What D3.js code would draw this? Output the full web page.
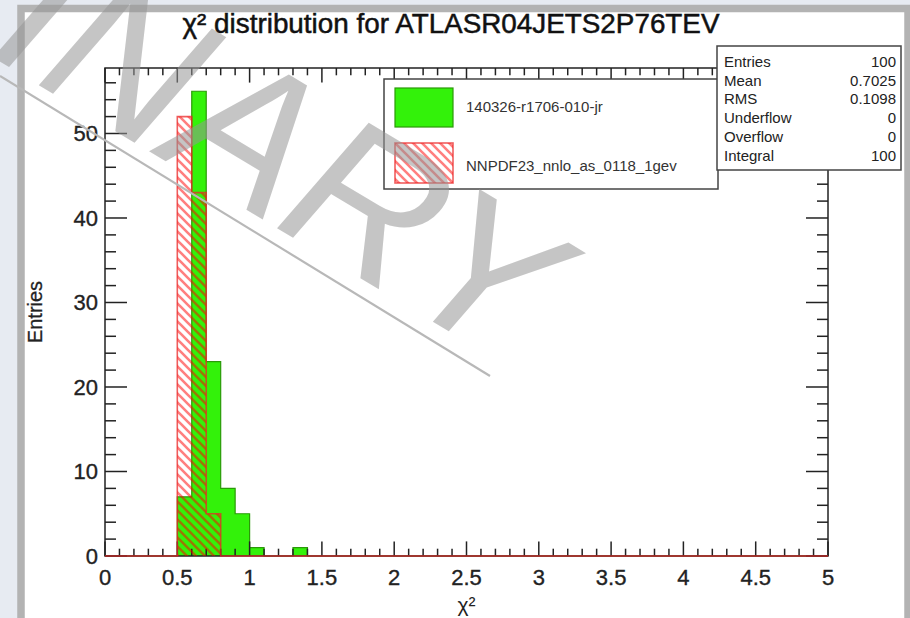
<!DOCTYPE html>
<html>
<head>
<meta charset="utf-8">
<script src="https://cdn.jsdelivr.net/npm/d3@7"></script>
<style>
  html, body { margin: 0; padding: 0; background: #e7ebf2; }
  svg { display: block; font-family: "Liberation Sans", Arial, Helvetica, sans-serif; }
</style>
</head>
<body>
<svg id="chart" width="910" height="618"></svg>
<script>
// Filled bins of the two chi^2 histograms (lower bin edges, bin width 0.1)
const binLowEdges = [0.5, 0.6, 0.7, 0.8, 0.9, 1.0, 1.1, 1.2, 1.3];
const entriesJr = [7, 55, 23, 8, 5, 1, 0, 0, 1];
const entriesNNPDF = [52, 43, 5, 0, 0, 0, 0, 0, 0];
const seriesNames = ["140326-r1706-010-jr", "NNPDF23_nnlo_as_0118_1gev"];

const xTickValues = [0, 0.5, 1, 1.5, 2, 2.5, 3, 3.5, 4, 4.5, 5];
const xTickLabels = ["0", "0.5", "1", "1.5", "2", "2.5", "3", "3.5", "4", "4.5", "5"];
const yTickValues = [0, 10, 20, 30, 40, 50];
const yTickLabels = ["0", "10", "20", "30", "40", "50"];

const statNames = ["Entries", "Mean", "RMS", "Underflow", "Overflow", "Integral"];
const statValues = ["100", "0.7025", "0.1098", "0", "0", "100"];

const titleText = "\u03c7\u00b2 distribution for ATLASR04JETS2P76TEV";

// histogram axis definition
const xMin = 0, xMax = 5, nBins = 50, binWidth = (xMax - xMin) / nBins;

const svg = d3.select("#chart");
const W = 910, H = 618;
const plot = { left: 105, right: 828, top: 68, bottom: 556 };

const x = d3.scaleLinear().domain([xMin, xMax]).range([plot.left, plot.right]);
const yMax = d3.max(entriesJr.concat(entriesNNPDF)) * 1.05;
const y = d3.scaleLinear().domain([0, yMax]).range([plot.bottom, plot.top]);

// ---- page frame ----
svg.append("rect").attr("x", 0).attr("y", 0).attr("width", W).attr("height", H).attr("fill", "#e7ebf2");
svg.append("rect").attr("x", 21).attr("y", 8.5).attr("width", 887).attr("height", 700)
  .attr("fill", "#ffffff").attr("stroke", "#b3b3b3").attr("stroke-width", 7.5);

const defs = svg.append("defs");
const hatch = defs.append("pattern").attr("id", "hatch")
  .attr("patternUnits", "userSpaceOnUse").attr("width", 9).attr("height", 9);
hatch.append("path").attr("d", "M-3,6 L3,12 M0,0 L9,9 M6,-3 L12,3")
  .attr("stroke", "rgba(255,0,0,0.5)").attr("stroke-width", 2.6).attr("fill", "none");

// ---- title ----
svg.append("text").attr("x", 451).attr("y", 33).attr("text-anchor", "middle")
  .attr("font-size", 27).attr("fill", "#111").attr("stroke", "#111").attr("stroke-width", 0.5)
  .attr("textLength", 537).attr("lengthAdjust", "spacingAndGlyphs")
  .text(titleText);

// ---- histogram helpers ----
function fullBins(values) {
  const arr = new Array(nBins).fill(0);
  binLowEdges.forEach((lo, i) => { arr[Math.round((lo - xMin) / binWidth)] = values[i]; });
  return arr;
}
function stepPoints(counts) {
  const pts = [[xMin, 0]];
  counts.forEach((c, i) => pts.push([xMin + i * binWidth, c]));
  pts.push([xMax, counts[counts.length - 1]]);
  pts.push([xMax, 0]);
  return pts;
}
const stepLine = d3.line().x(d => x(d[0])).y(d => y(d[1])).curve(d3.curveStepAfter);
const stepArea = d3.area().x(d => x(d[0])).y0(y(0)).y1(d => y(d[1])).curve(d3.curveStepAfter);

const jrPts = stepPoints(fullBins(entriesJr));
const nnPts = stepPoints(fullBins(entriesNNPDF));

// ---- axes (ticks pointing inward on all four sides) ----
const xMinor = d3.range(0, 51).map(i => i * 0.1).filter(v => !xTickValues.some(t => Math.abs(t - v) < 1e-9));
const yMinor = d3.range(0, 29).map(i => i * 2).filter(v => v % 10 !== 0);
const xMajLen = 14.6, xMinLen = 7.3, yMajLen = 22, yMinLen = 11;

// green histogram first
svg.append("path").attr("d", stepArea(jrPts)).attr("fill", "#33f20a");
svg.append("path").attr("d", stepLine(jrPts)).attr("fill", "none")
  .attr("stroke", "#2a9a08").attr("stroke-width", 1.2);

const axes = svg.append("g").attr("stroke", "#222").attr("stroke-width", 1.5);
axes.append("rect").attr("x", plot.left).attr("y", plot.top)
  .attr("width", plot.right - plot.left).attr("height", plot.bottom - plot.top)
  .attr("fill", "none");

function tickLines(values, len, side) {
  values.forEach(v => {
    if (side === "bottom") axes.append("line").attr("x1", x(v)).attr("x2", x(v)).attr("y1", plot.bottom).attr("y2", plot.bottom - len);
    if (side === "top") axes.append("line").attr("x1", x(v)).attr("x2", x(v)).attr("y1", plot.top).attr("y2", plot.top + len);
    if (side === "left") axes.append("line").attr("y1", y(v)).attr("y2", y(v)).attr("x1", plot.left).attr("x2", plot.left + len);
    if (side === "right") axes.append("line").attr("y1", y(v)).attr("y2", y(v)).attr("x1", plot.right).attr("x2", plot.right - len);
  });
}
tickLines(xTickValues, xMajLen, "bottom");
tickLines(xMinor, xMinLen, "bottom");
tickLines(xTickValues, xMajLen, "top");
tickLines(xMinor, xMinLen, "top");
tickLines(yTickValues, yMajLen, "left");
tickLines(yMinor, yMinLen, "left");
tickLines(yTickValues, yMajLen, "right");
tickLines(yMinor, yMinLen, "right");

// tick labels
svg.append("g").attr("stroke", "#222").attr("stroke-width", 0.35)
  .selectAll("text").data(xTickValues).join("text")
  .attr("x", d => x(d)).attr("y", 585).attr("text-anchor", "middle")
  .attr("font-size", 22).attr("fill", "#222")
  .text((d, i) => xTickLabels[i]);
svg.append("g").attr("stroke", "#222").attr("stroke-width", 0.35)
  .selectAll("text").data(yTickValues).join("text")
  .attr("x", 98).attr("y", d => y(d) + 8).attr("text-anchor", "end")
  .attr("font-size", 22).attr("fill", "#222")
  .text((d, i) => yTickLabels[i]);

// axis titles
svg.append("text").attr("x", x(2.5)).attr("y", 612).attr("text-anchor", "middle")
  .attr("font-size", 21).attr("fill", "#222").text("\u03c7\u00b2");
svg.append("text").attr("transform", `translate(42,${(plot.top + plot.bottom) / 2}) rotate(-90)`)
  .attr("text-anchor", "middle").attr("font-size", 20).attr("fill", "#222")
  .attr("stroke", "#222").attr("stroke-width", 0.3).text("Entries");

// second (hatched) histogram drawn over the first
svg.append("path").attr("d", stepArea(nnPts)).attr("fill", "url(#hatch)");
svg.append("path").attr("d", stepLine(nnPts)).attr("fill", "none")
  .attr("stroke", "rgba(235,40,40,0.75)").attr("stroke-width", 1.6);

// ---- legend ----
const leg = svg.append("g");
leg.append("rect").attr("x", 384).attr("y", 79).attr("width", 334).attr("height", 110)
  .attr("fill", "#fff").attr("stroke", "#444").attr("stroke-width", 1.5);
leg.append("rect").attr("x", 395).attr("y", 88).attr("width", 58).attr("height", 39)
  .attr("fill", "#33f20a").attr("stroke", "#2a9a08").attr("stroke-width", 1.2);
leg.append("rect").attr("x", 395).attr("y", 143).attr("width", 58).attr("height", 40)
  .attr("fill", "url(#hatch)").attr("stroke", "rgba(235,40,40,0.75)").attr("stroke-width", 1.6);
leg.selectAll("text.name").data(seriesNames).join("text").attr("class", "name")
  .attr("x", 466).attr("y", (d, i) => [112, 171][i])
  .attr("font-size", 15).attr("fill", "#333").text(d => d);

// ---- statistics box ----
const stats = svg.append("g");
stats.append("rect").attr("x", 717).attr("y", 46).attr("width", 184).attr("height", 124)
  .attr("fill", "#fff").attr("stroke", "#444").attr("stroke-width", 1.5);
statNames.forEach((n, i) => {
  const ty = 67 + i * 18.7;
  stats.append("text").attr("x", 724).attr("y", ty).attr("font-size", 15).attr("fill", "#222").text(n);
  stats.append("text").attr("x", 896).attr("y", ty).attr("text-anchor", "end")
    .attr("font-size", 15).attr("fill", "#222").text(statValues[i]);
});

// ---- watermark ----
svg.append("line").attr("x1", 0).attr("y1", 76).attr("x2", 490).attr("y2", 376)
  .attr("stroke", "#b8b8b8").attr("stroke-width", 2.2);
svg.append("text").attr("transform", "translate(498,361) rotate(31) skewX(-10)")
  .attr("text-anchor", "end").attr("font-size", 200)
  .attr("fill", "rgba(150,150,150,0.55)").text("PRELIMINARY");
</script>
</body>
</html>
